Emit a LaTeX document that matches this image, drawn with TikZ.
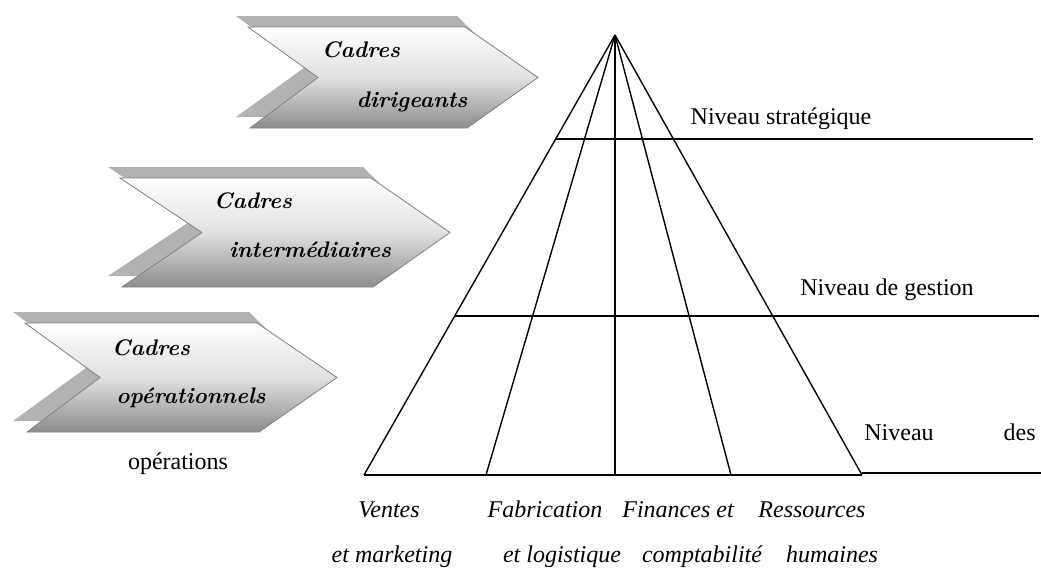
\documentclass[tikz,border=0pt]{standalone}
\usepackage{fontspec}
\newfontfamily\tnr{Liberation Serif}
\tikzset{
  chevshadow/.style={fill=black!30, draw=none},
  chevmain/.style={top color=white, bottom color=black!45, middle color=black!12, draw=black!50, line width=0.8pt},
  chevtext/.style={font=\fontsize{22.5}{27}\selectfont\bfseries\itshape, inner sep=0pt, anchor=base},
  lvl/.style={font=\tnr\fontsize{24}{28}\selectfont, inner sep=0pt, anchor=base},
  dept/.style={font=\tnr\fontsize{24}{28}\selectfont\itshape, inner sep=0pt, anchor=base},
  pyr/.style={line width=1.4pt, black},
}
% #1 left, #2 top, #3 right, #4 bottom, #5 point x, #6 notch x
\newcommand\mychevron[6]{%
  \path[chevshadow] (#1-12,#2-11) -- (#3-8,#2-11) -- ({#3+0.6*(#5-#3)},{(#2+#4)/2-11}) -- (#3-10,#4-11) -- (#1-12,#4-11) -- (#6-12,{(#2+#4)/2-11}) -- cycle;
  \path[chevmain] (#1,#2) -- (#3,#2) -- (#5,{(#2+#4)/2}) -- (#3+2,#4) -- (#1+2,#4) -- (#6,{(#2+#4)/2}) -- cycle;
}
\begin{document}
\begin{tikzpicture}[x=1pt,y=-1pt]
\useasboundingbox (0,0) rectangle (1041,568);
\fill[white] (0,0) rectangle (1041,568);
% chevrons
\mychevron{248}{27}{465}{128}{538}{318}
\mychevron{120}{178}{371}{287}{450}{202}
\mychevron{25}{323}{257}{432}{337}{100}
\node[chevtext] (c1a) at (361,57) {Cadres};
\node[chevtext] (c1b) at (412,107) {dirigeants};
\node[chevtext] (c2a) at (253,208) {Cadres};
\node[chevtext] (c2b) at (310,257) {intermédiaires};
\node[chevtext] (c3a) at (151,355) {Cadres};
\node[chevtext] (c3b) at (191,403) {opérationnels};
\node[lvl] (ops) at (178,469) {opérations};
% pyramid
\coordinate (apex) at (615,35);
\coordinate (b1) at (364,475);
\coordinate (b2) at (486,475);
\coordinate (b3) at (615,475);
\coordinate (b4) at (731,475);
\coordinate (b5) at (862,475);
\coordinate (l1a) at (555.7,139);
\coordinate (l1b) at (1033,139);
\coordinate (l2a) at (454.7,316);
\coordinate (l2b) at (1039,316);
\coordinate (l3a) at (862,473);
\coordinate (l3b) at (1041,473);
\draw[pyr] (apex) -- (b1);
\draw[pyr] (apex) -- (b2);
\draw[pyr] (apex) -- (b3);
\draw[pyr] (apex) -- (b4);
\draw[pyr] (apex) -- (b5);
\draw[pyr] (b1) -- (b5);
\draw[pyr] (l1a) -- (l1b);
\draw[pyr] (l2a) -- (l2b);
\draw[pyr] (l3a) -- (l3b);
% level labels
\node[lvl] (n1) at (781,124) {Niveau stratégique};
\node[lvl] (n2) at (887,295) {Niveau de gestion};
\node[lvl] (n3) at (950,440) {Niveau\hspace{70pt}des};
% departments
\node[dept] (d1a) at (389,517) {Ventes};
\node[dept] (d1b) at (392,562) {et marketing};
\node[dept] (d2a) at (545,517) {Fabrication};
\node[dept] (d2b) at (562,562) {et logistique};
\node[dept] (d3a) at (678,517) {Finances et};
\node[dept] (d3b) at (702,562) {comptabilité};
\node[dept] (d4a) at (812,517) {Ressources};
\node[dept] (d4b) at (832,562) {humaines};
\end{tikzpicture}
\end{document}
